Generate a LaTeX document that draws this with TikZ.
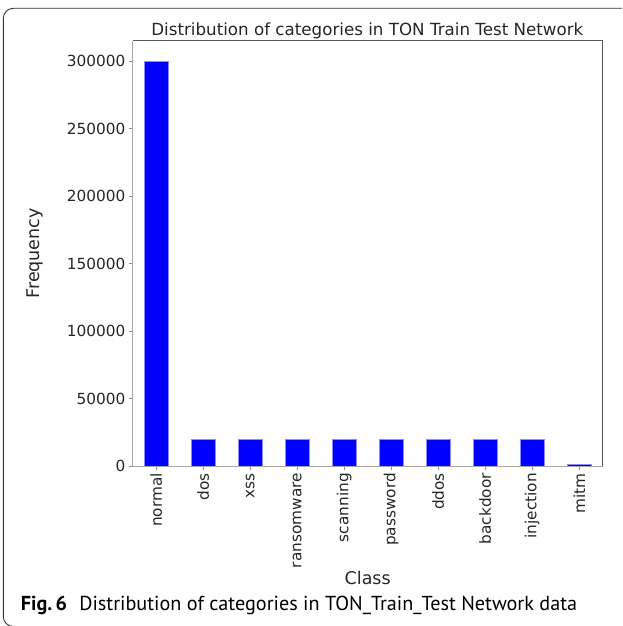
\documentclass[tikz,border=0pt]{standalone}
\usepackage{fontspec}
\setmainfont{DejaVu Sans}
\newfontfamily\capfont{PT Sans}
\begin{document}
\begin{tikzpicture}[x=1pt,y=-1pt,
  spineA/.style={draw=black!35,line width=0.9pt},
  spineB/.style={draw=black!65,line width=0.9pt},
  barstyle/.style={fill=blue,draw=blue!45!white,line width=0.6pt},
  tickmark/.style={draw=black!45,line width=0.7pt},
  ticklab/.style={font=\fontsize{15.3}{18}\selectfont,text=black!85,inner sep=0pt},
  axlab/.style={font=\fontsize{17.5}{20}\selectfont,text=black!85,inner sep=0pt},
  titlestyle/.style={font=\fontsize{16.7}{20}\selectfont,text=black!85,inner sep=0pt},
  capstyle/.style={font=\capfont\fontsize{20.2}{24}\selectfont,inner sep=0pt},
  framestyle/.style={draw=black!80,line width=0.9pt,rounded corners=10pt}]
\useasboundingbox (0,0) rectangle (622,626);
\begin{scope}
  \clip (0,0) rectangle (622,626);
  \draw[framestyle] (3.3,8.3) rectangle (660,626.5);
\end{scope}
% axes corners
\coordinate (bl) at (132.7,466);
\coordinate (br) at (602.7,466);
\coordinate (tl) at (132.7,40.7);
\coordinate (tr) at (602.7,40.7);
% bars (values in thousands)
\foreach \i/\lab/\val in {0/normal/300,1/dos/20,2/xss/20,3/ransomware/20,4/scanning/20,5/password/20,6/ddos/20,7/backdoor/20,8/injection/20,9/mitm/1.3}{
  \pgfmathsetmacro{\xc}{156.2+47*\i}
  \pgfmathsetmacro{\yt}{466-1.35*\val}
  \draw[barstyle] (\xc-11.75,466) rectangle (\xc+11.75,\yt);
  \coordinate (xt\i) at (\xc,466);
  \coordinate (xe\i) at (\xc,469.5);
  \draw[tickmark] (xt\i) -- (xe\i);
  \node[ticklab,rotate=90,anchor=east] (xl\i) at (\xc,473) {\lab};
}
% y ticks
\foreach \v/\t in {0/0,50/50000,100/100000,150/150000,200/200000,250/250000,300/300000}{
  \pgfmathsetmacro{\yy}{466-1.35*\v}
  \coordinate (yt\v) at (132.7,\yy);
  \coordinate (ye\v) at (129.2,\yy);
  \draw[tickmark] (yt\v) -- (ye\v);
  \node[ticklab,anchor=east] (yl\v) at (125.5,\yy) {\t};
}
% spines
\draw[spineA] (tl) -- (bl) -- (br);
\draw[spineB] (tl) -- (tr) -- (br);
% labels
\node[titlestyle,anchor=base] (title) at (367.3,36) {Distribution of categories in TON Train Test Network};
\node[axlab,anchor=base] (xlab) at (367.7,584) {Class};
\node[axlab,rotate=90] (ylab) at (35,253.4) {Frequency};
\node[capstyle,anchor=base west] (cap) at (20.7,610.5) {\textbf{Fig.\,6}\hspace{0.6em}Distribution of categories in TON\_Train\_Test Network data};
\end{tikzpicture}
\end{document}
